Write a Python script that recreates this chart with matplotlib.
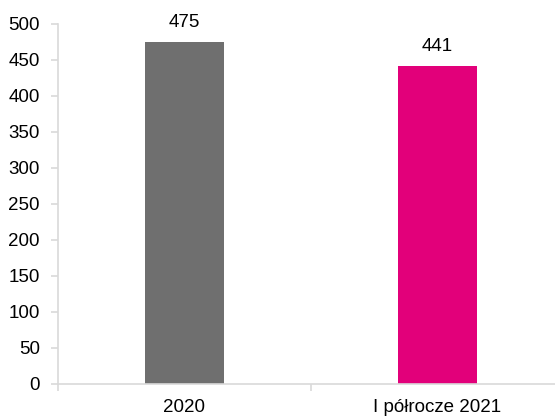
import matplotlib
matplotlib.use("Agg")
import matplotlib.pyplot as plt

categories = ["2020", "I półrocze 2021"]
values = [475, 441]
colors = ["#6f6f6f", "#e2007a"]
yticks = [0, 50, 100, 150, 200, 250, 300, 350, 400, 450, 500]

plt.rcParams['font.family'] = ['Liberation Sans', 'DejaVu Sans']

fig = plt.figure(figsize=(5.55, 4.16), dpi=100)
ax = fig.add_axes([58/555, 32/416, 506/555, 360/416])

x = range(len(categories))
bars = ax.bar(x, values, width=0.316, color=colors)
for xi, v in zip(x, values):
    ax.annotate(str(v), (xi, v), xytext=(0, 8), textcoords="offset points",
                ha="center", va="bottom", fontsize=13.5, color="black")

ax.set_xlim(-0.5, 1.5)
ax.set_ylim(0, 500)
ax.set_yticks(yticks)
ax.set_xticks(list(x))
ax.set_xticklabels(categories)
ax.set_xticks([-0.5, 0.5, 1.5], minor=True)

for s in ["top", "right"]:
    ax.spines[s].set_visible(False)
for s in ["left", "bottom"]:
    ax.spines[s].set_color("#d9d9d9")
    ax.spines[s].set_linewidth(1.2)

ax.tick_params(axis="y", which="major", length=5, color="#d9d9d9", width=1.2,
               labelsize=13.5, labelcolor="black", pad=8)
ax.tick_params(axis="x", which="major", length=0, labelsize=13.5,
               labelcolor="black", pad=11)
ax.tick_params(axis="x", which="minor", length=5, color="#d9d9d9", width=1.2)

fig.savefig("out.png", dpi=100)
